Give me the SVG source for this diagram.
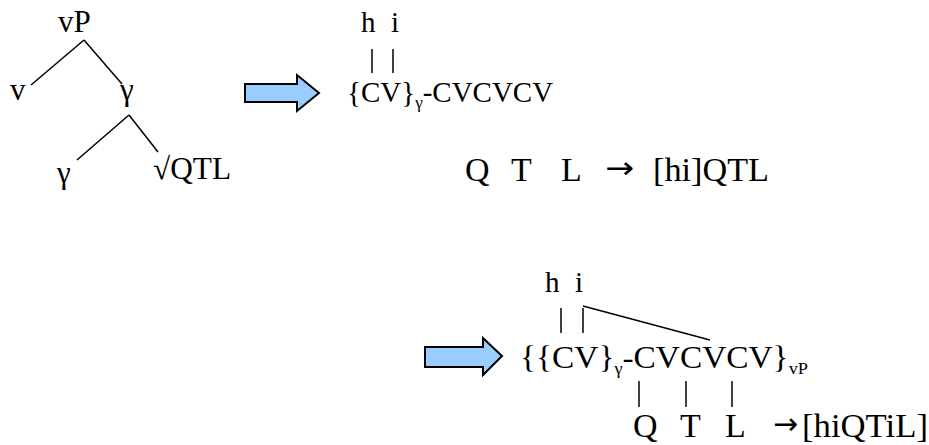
<svg xmlns="http://www.w3.org/2000/svg" width="929" height="445" viewBox="0 0 929 445">
<style>
text{font-family:"Liberation Serif","Times New Roman",serif;fill:#000}
.t{font-size:31px}
.f{font-size:29px}
.f2{font-size:31px}
.r{font-size:34px}
.sub{font-size:17px}
.ar{font-family:"DejaVu Sans",sans-serif;font-size:30px}
.ln{stroke:#000;stroke-width:1.5;fill:none}
.arr{fill:#99ccff;stroke:#000;stroke-width:2}
</style>
<rect width="929" height="445" fill="#fff"/>
<g id="connectors">
<line class="ln" x1="84" y1="40" x2="31" y2="85"/>
<line class="ln" x1="84" y1="40" x2="122" y2="84"/>
<line class="ln" x1="129" y1="115" x2="77" y2="160"/>
<line class="ln" x1="129" y1="115" x2="158" y2="152"/>
<line class="ln" x1="372" y1="49" x2="372" y2="73"/>
<line class="ln" x1="393" y1="49" x2="393" y2="73"/>
<line class="ln" x1="561" y1="308" x2="561" y2="333"/>
<line class="ln" x1="583" y1="308" x2="583" y2="333"/>
<line class="ln" x1="583" y1="306" x2="710" y2="340"/>
<line class="ln" x1="639" y1="381" x2="639" y2="407"/>
<line class="ln" x1="686" y1="381" x2="686" y2="407"/>
<line class="ln" x1="732" y1="381" x2="732" y2="407"/>
</g>
<g id="tree">
<text class="t" x="58" y="32">vP</text>
<text class="t" x="10" y="100">v</text>
<text class="t" x="120" y="100">γ</text>
<text class="t" x="57" y="183">γ</text>
<text class="t" x="153" y="179" textLength="78" lengthAdjust="spacingAndGlyphs">√QTL</text>
</g>
<g id="arrow1"><path class="arr" d="M245,84 H297 V75 L319,93 L297,111 V102 H245 Z"/></g>
<g id="form1">
<text class="f" x="361" y="32">h</text>
<text class="f" x="391" y="32">i</text>
<text class="f" x="347" y="102">{CV}<tspan class="sub" dy="6">γ</tspan><tspan dy="-6">-CVCVCV</tspan></text>
</g>
<g id="rule1">
<text class="r" x="465" y="181">Q</text>
<text class="r" x="511" y="181">T</text>
<text class="r" x="561" y="181">L</text>
<text class="ar" x="605" y="178" textLength="29" lengthAdjust="spacingAndGlyphs">→</text>
<text class="r" x="653" y="181" textLength="116" lengthAdjust="spacingAndGlyphs">[hi]QTL</text>
</g>
<g id="arrow2"><path class="arr" d="M425,347 H483 V338 L502,356 L483,375 V367 H425 Z"/></g>
<g id="form2">
<text class="f" x="545" y="292">h</text>
<text class="f" x="575" y="292">i</text>
<text class="f2" x="520" y="368" textLength="288" lengthAdjust="spacingAndGlyphs">{{CV}<tspan class="sub" dy="6">γ</tspan><tspan dy="-6">-CVCVCV}</tspan><tspan class="sub" dy="6">vP</tspan></text>
</g>
<g id="rule2">
<text class="r" x="633" y="437">Q</text>
<text class="r" x="680" y="437">T</text>
<text class="r" x="725" y="437">L</text>
<text class="ar" x="773" y="434" textLength="25" lengthAdjust="spacingAndGlyphs">→</text>
<text class="r" x="802" y="437" textLength="126" lengthAdjust="spacingAndGlyphs">[hiQTiL]</text>
</g>
</svg>
